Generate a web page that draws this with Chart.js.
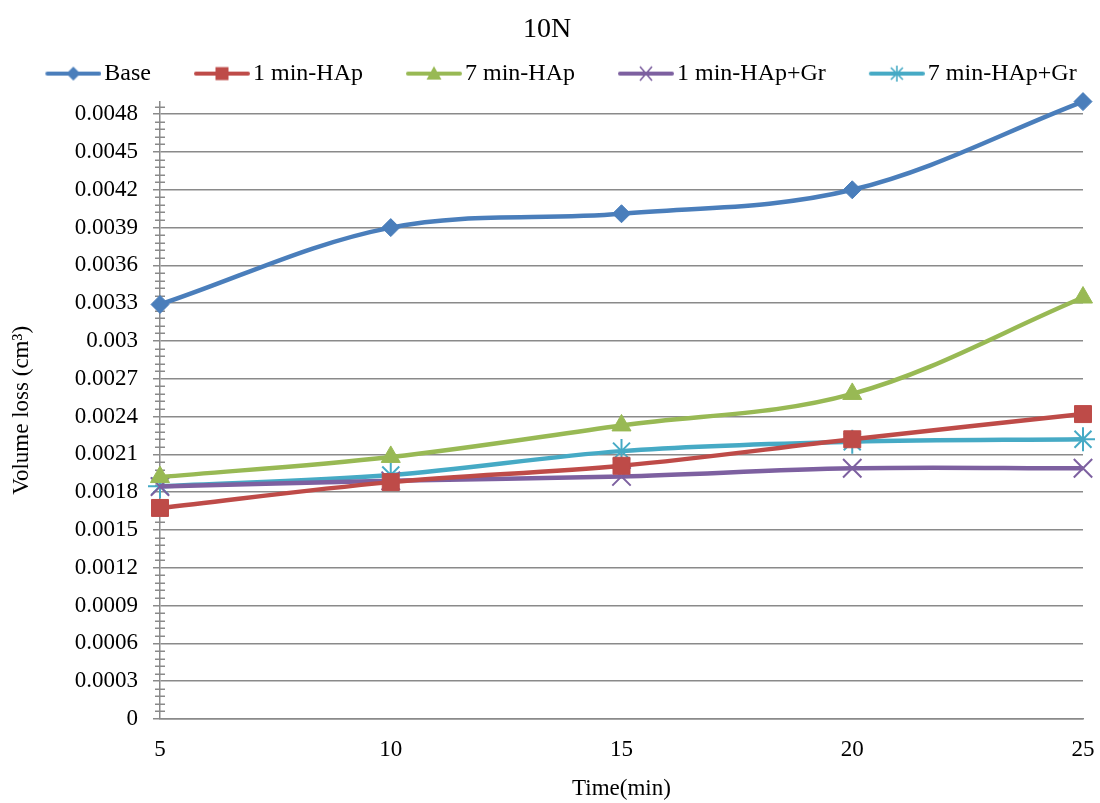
<!DOCTYPE html>
<html>
<head>
<meta charset="utf-8">
<script src="https://cdn.jsdelivr.net/npm/chart.js@4.4.1/dist/chart.umd.min.js"></script>
<style>
  html, body { margin: 0; padding: 0; background: #ffffff; }
  #wrap { width: 1100px; height: 803px; }
</style>
</head>
<body>
<div id="wrap"><canvas id="c" width="1100" height="803"></canvas></div>
<script>
// ---- data ----
const timeLabels = ['5', '10', '15', '20', '25'];
const baseVals    = [0.00329, 0.0039, 0.00401, 0.0042, 0.0049];
const hap1Vals    = [0.001675, 0.00188, 0.00201, 0.00222, 0.00242];
const hap7Vals    = [0.00192, 0.00208, 0.00233, 0.00258, 0.003345];
const hapGr1Vals  = [0.001845, 0.00189, 0.001925, 0.00199, 0.00199];
const hapGr7Vals  = [0.001847, 0.001936, 0.002126, 0.0022, 0.00222];
const seriesNames = ['Base', '1 min-HAp', '7 min-HAp', '1 min-HAp+Gr', '7 min-HAp+Gr'];
const yTickLabels = ['0', '0.0003', '0.0006', '0.0009', '0.0012', '0.0015', '0.0018', '0.0021',
                     '0.0024', '0.0027', '0.003', '0.0033', '0.0036', '0.0039', '0.0042', '0.0045', '0.0048'];
const yMaxValue = 0.0049;
const yMinorStep = 0.00006;

// ---- styles ----
const FONT = "'Liberation Serif', 'Times New Roman', serif";
const colors = ['#4A7EBB', '#BE4B48', '#98B954', '#7D60A0', '#46AAC5'];
const shapes = ['diamond', 'square', 'triangle', 'x', 'star'];
const pointStyles = ['rectRot', 'rect', 'triangle', 'crossRot', 'star'];
const pointRadii = [9, 12, 11, 13, 12];

function makeIcon(color, shape) {
  const c = document.createElement('canvas');
  c.width = 93; c.height = 22;
  const g = c.getContext('2d');
  g.strokeStyle = color; g.fillStyle = color;
  g.lineWidth = 4; g.lineCap = 'round';
  g.beginPath(); g.moveTo(39, 11); g.lineTo(91, 11); g.stroke();
  const cx = 65, cy = 11;
  g.lineCap = 'butt';
  if (shape === 'diamond') {
    g.beginPath(); g.moveTo(cx, cy - 7); g.lineTo(cx + 7, cy); g.lineTo(cx, cy + 7); g.lineTo(cx - 7, cy); g.closePath(); g.fill();
  } else if (shape === 'square') {
    g.fillRect(cx - 6.5, cy - 6.5, 13, 13);
  } else if (shape === 'triangle') {
    g.beginPath(); g.moveTo(cx, cy - 7.5); g.lineTo(cx + 7.5, cy + 6); g.lineTo(cx - 7.5, cy + 6); g.closePath(); g.fill();
  } else if (shape === 'x') {
    g.lineWidth = 1.6;
    g.beginPath(); g.moveTo(cx - 6, cy - 7); g.lineTo(cx + 6, cy + 7); g.moveTo(cx + 6, cy - 7); g.lineTo(cx - 6, cy + 7); g.stroke();
  } else if (shape === 'star') {
    g.lineWidth = 1.6;
    g.beginPath(); g.moveTo(cx - 6, cy - 6); g.lineTo(cx + 6, cy + 6); g.moveTo(cx + 6, cy - 6); g.lineTo(cx - 6, cy + 6);
    g.moveTo(cx, cy - 8); g.lineTo(cx, cy + 8); g.stroke();
  }
  return c;
}
const icons = colors.map((c, i) => makeIcon(c, shapes[i]));

const allVals = [baseVals, hap1Vals, hap7Vals, hapGr1Vals, hapGr7Vals];
const datasets = allVals.map((vals, i) => ({
  label: seriesNames[i],
  data: vals,
  borderColor: colors[i],
  backgroundColor: colors[i],
  borderWidth: 4.5,
  tension: 0.35,
  pointStyle: pointStyles[i],
  pointRadius: pointRadii[i],
  pointHoverRadius: pointRadii[i],
  pointBorderWidth: (i >= 3) ? 2 : 1,
  pointBackgroundColor: colors[i],
  pointBorderColor: colors[i],
  clip: false
}));

const GRID = '#8A8A8A';

const minorTicks = {
  id: 'minorTicks',
  beforeDatasetsDraw(chart) {
    const y = chart.scales.y, x = chart.scales.x;
    const ctx = chart.ctx;
    const ax = x.left;
    ctx.save();
    ctx.strokeStyle = GRID;
    ctx.lineWidth = 1.5;
    const n = Math.floor(yMaxValue / yMinorStep + 1e-9);
    for (let k = 1; k <= n; k++) {
      if (k % 5 === 0) continue;
      const py = Math.round(y.getPixelForValue(k * yMinorStep)) + 0.25;
      ctx.beginPath(); ctx.moveTo(ax - 5, py); ctx.lineTo(ax + 5, py); ctx.stroke();
    }
    ctx.restore();
  }
};

// adds a little room below the legend row
const legendGap = {
  id: 'legendGap',
  beforeLayout(chart) {
    const lg = chart.legend;
    if (lg && !lg._gapWrapped) {
      const orig = lg.fit;
      lg.fit = function () { orig.apply(this, arguments); this.height += 6; };
      lg._gapWrapped = true;
    }
  }
};

new Chart(document.getElementById('c'), {
  type: 'line',
  data: { labels: timeLabels, datasets },
  plugins: [minorTicks, legendGap],
  options: {
    responsive: false,
    animation: false,
    devicePixelRatio: 1,
    layout: { padding: { left: 0, right: 6, top: 0, bottom: 0 } },
    plugins: {
      title: {
        display: true, text: '10N', color: '#000',
        font: { family: FONT, size: 28, weight: 'normal', lineHeight: 1.2 },
        padding: { top: 13, bottom: 0 }
      },
      legend: {
        display: true, position: 'top', align: 'center',
        labels: {
          color: '#000',
          font: { family: FONT, size: 24 },
          usePointStyle: true,
          pointStyleWidth: 75,
          padding: 15,
          generateLabels(chart) {
            const items = Chart.defaults.plugins.legend.labels.generateLabels(chart);
            items.forEach((it, i) => { it.pointStyle = icons[i]; it.lineWidth = 0; });
            return items;
          }
        }
      },
      tooltip: { enabled: false }
    },
    scales: {
      x: {
        type: 'category',
        offset: false,
        grid: { display: false, drawTicks: false },
        border: { display: true, color: GRID, width: 1.5 },
        ticks: { color: '#000', font: { family: FONT, size: 23 }, padding: 17, maxRotation: 0 },
        title: { display: true, text: 'Time(min)', color: '#000', font: { family: FONT, size: 23 }, padding: { top: 0, bottom: 0 } },
        afterFit(scale) { scale.height = 84; scale.paddingRight = 17; scale.paddingLeft = 0; }
      },
      y: {
        type: 'linear',
        min: 0, max: yMaxValue,
        afterBuildTicks(scale) { scale.ticks = yTickLabels.map(s => ({ value: parseFloat(s) })); },
        grid: { color: GRID, lineWidth: 1.5, drawTicks: true, tickLength: 7, tickColor: GRID },
        border: { display: true, color: GRID, width: 1.5 },
        ticks: {
          color: '#000', font: { family: FONT, size: 23 }, padding: 15,
          callback(value, index) { return yTickLabels[index]; }
        },
        title: { display: true, text: 'Volume loss (cm³)', color: '#000', font: { family: FONT, size: 23 }, padding: { top: 8, bottom: 0 } },
        afterFit(scale) { scale.width = 160; }
      }
    }
  }
});
</script>
</body>
</html>
